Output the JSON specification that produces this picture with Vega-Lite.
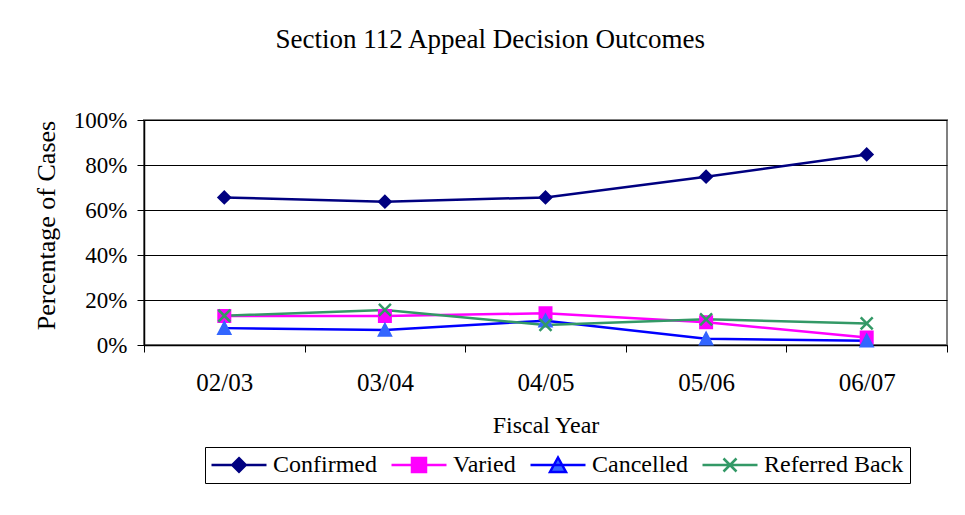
{
  "$schema": "https://vega.github.io/schema/vega-lite/v6.json",
  "width": 803,
  "height": 225,
  "autosize": {"type": "none"},
  "padding": {"left": 144, "top": 120, "right": 18, "bottom": 170},
  "background": "white",
  "title": {
    "text": "Section 112 Appeal Decision Outcomes",
    "font": "Liberation Serif",
    "fontSize": 27,
    "fontWeight": "normal",
    "color": "black",
    "anchor": "middle",
    "frame": "bounds",
    "offset": 55
  },
  "config": {
    "view": {"stroke": "#808080", "strokeWidth": 2},
    "font": "Liberation Serif"
  },
  "data": {
    "values": [
      {"year": "02/03", "series": "Confirmed", "value": 0.656},
      {"year": "03/04", "series": "Confirmed", "value": 0.637},
      {"year": "04/05", "series": "Confirmed", "value": 0.656},
      {"year": "05/06", "series": "Confirmed", "value": 0.748},
      {"year": "06/07", "series": "Confirmed", "value": 0.847},
      {"year": "02/03", "series": "Varied", "value": 0.129},
      {"year": "03/04", "series": "Varied", "value": 0.129},
      {"year": "04/05", "series": "Varied", "value": 0.141},
      {"year": "05/06", "series": "Varied", "value": 0.101},
      {"year": "06/07", "series": "Varied", "value": 0.033},
      {"year": "02/03", "series": "Cancelled", "value": 0.075},
      {"year": "03/04", "series": "Cancelled", "value": 0.067},
      {"year": "04/05", "series": "Cancelled", "value": 0.108},
      {"year": "05/06", "series": "Cancelled", "value": 0.028},
      {"year": "06/07", "series": "Cancelled", "value": 0.019},
      {"year": "02/03", "series": "Referred Back", "value": 0.13},
      {"year": "03/04", "series": "Referred Back", "value": 0.156},
      {"year": "04/05", "series": "Referred Back", "value": 0.089},
      {"year": "05/06", "series": "Referred Back", "value": 0.114},
      {"year": "06/07", "series": "Referred Back", "value": 0.096}
    ]
  },
  "encoding": {
    "x": {
      "field": "year",
      "type": "nominal",
      "sort": null,
      "scale": {"type": "band", "paddingInner": 0, "paddingOuter": 0},
      "axis": {
        "title": "Fiscal Year",
        "labelAngle": 0,
        "tickBand": "extent",
        "grid": false,
        "domainColor": "black",
        "domainWidth": 1.5,
        "tickColor": "black",
        "tickWidth": 1,
        "tickSize": 7,
        "labelPadding": 18,
        "labelFont": "Liberation Serif",
        "labelFontSize": 25,
        "labelColor": "black",
        "titleFont": "Liberation Serif",
        "titleFontSize": 24,
        "titleFontWeight": "normal",
        "titleColor": "black",
        "titleY": 80,
        "titleBaseline": "middle"
      }
    },
    "y": {
      "field": "value",
      "type": "quantitative",
      "scale": {"domain": [0, 1], "nice": false},
      "axis": {
        "title": "Percentage of Cases",
        "values": [0, 0.2, 0.4, 0.6, 0.8, 1],
        "format": ".0%",
        "grid": true,
        "gridColor": "black",
        "gridWidth": 1,
        "domainColor": "black",
        "domainWidth": 1.5,
        "tickColor": "black",
        "tickSize": 7,
        "labelPadding": 10,
        "labelFlush": false,
        "labelOverlap": false,
        "labelFont": "Liberation Serif",
        "labelFontSize": 23,
        "labelColor": "black",
        "titleFont": "Liberation Serif",
        "titleFontSize": 26,
        "titleFontWeight": "normal",
        "titleColor": "black",
        "titleX": -98,
        "titleY": 105,
        "titleAngle": -90,
        "titleAlign": "center",
        "titleBaseline": "middle"
      }
    }
  },
  "layer": [
    {
      "mark": {"type": "line", "strokeWidth": 2.5},
      "encoding": {
        "color": {
          "field": "series",
          "type": "nominal",
          "scale": {
            "domain": ["Confirmed", "Varied", "Cancelled", "Referred Back"],
            "range": ["#000080", "#FF00FF", "#0000FF", "#339966"]
          },
          "legend": {
            "orient": "none",
            "legendX": 61,
            "legendY": 327,
            "direction": "horizontal",
            "title": null,
            "labelFont": "Liberation Serif",
            "labelFontSize": 24,
            "labelColor": "black",
            "labelLimit": 0,
            "symbolSize": 100,
            "symbolStrokeWidth": 2.5,
            "symbolOffset": 16,
            "labelOffset": 22,
            "columnPadding": 9,
            "padding": 6,
            "strokeColor": "black",
            "encode": {
              "symbols": {
                "update": {
                  "shape": {"signal": "datum.value === 'Confirmed' ? 'M-5.5,0H5.5M0,-1.35L1.35,0L0,1.35L-1.35,0Z' : datum.value === 'Varied' ? 'M-5.5,0H5.5M-1.4,-1.4H1.4V1.4H-1.4Z' : datum.value === 'Cancelled' ? 'M-5.5,0H5.5M0,-1.5L1.6,1.4H-1.6Z' : 'M-5.5,0H5.5M-1.3,-1.3L1.3,1.3M-1.3,1.3L1.3,-1.3'"},
                  "fill": {"signal": "datum.value === 'Confirmed' ? '#000080' : datum.value === 'Varied' ? '#FF00FF' : datum.value === 'Cancelled' ? '#3366FF' : 'transparent'"},
                  "stroke": {"signal": "datum.value === 'Confirmed' ? '#000080' : datum.value === 'Varied' ? '#FF00FF' : datum.value === 'Cancelled' ? '#0000FF' : '#339966'"},
                  "opacity": {"value": 1}
                }
              }
            }
          }
        }
      }
    },
    {
      "transform": [{"filter": "datum.series === 'Confirmed'"}],
      "mark": {"type": "point", "shape": "M0,-1L1,0L0,1L-1,0Z", "size": 144, "strokeWidth": 2, "opacity": 1, "fill": "#000080", "stroke": "#000080"}
    },
    {
      "transform": [{"filter": "datum.series === 'Varied'"}],
      "mark": {"type": "point", "shape": "M-1,-1H1V1H-1Z", "size": 144, "strokeWidth": 2, "opacity": 1, "fill": "#FF00FF", "stroke": "#FF00FF"}
    },
    {
      "transform": [{"filter": "datum.series === 'Cancelled'"}],
      "mark": {"type": "point", "shape": "M0,-1.1L1.1,1H-1.1Z", "size": 144, "strokeWidth": 1.5, "opacity": 1, "fill": "#3366FF", "stroke": "#3366FF"}
    },
    {
      "transform": [{"filter": "datum.series === 'Referred Back'"}],
      "mark": {"type": "point", "shape": "M-1,-1L1,1M-1,1L1,-1", "size": 144, "strokeWidth": 2.5, "opacity": 1, "fill": "transparent", "stroke": "#339966"}
    }
  ]
}
